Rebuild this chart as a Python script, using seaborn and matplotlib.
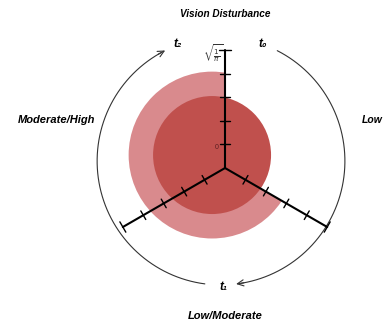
import numpy as np
import pandas as pd
import matplotlib
matplotlib.use("Agg")
import matplotlib.pyplot as plt
from matplotlib.patches import Circle, Wedge
import seaborn as sns

# --- data -------------------------------------------------------------
axis_names = ["$t_0$", "$t_1$", "$t_2$"]          # time points on the three spokes
axis_angles = [90, -30, 210]                          # spoke directions (degrees)
state_labels = ["Low", "Low/Moderate", "Moderate/High"]
title = "Vision Disturbance"

r_max = np.sqrt(1 / np.pi)                            # spoke length: radius of a unit-area circle
n_ticks = 5                                           # tick marks per spoke

circle_areas = [0.5, 0.25]                            # outer (light) and inner (dark) discs
circle_colors = ["#D98A8D", "#C0504D"]
circle_center = [-0.062, 0.062]                       # shared centre of both discs
outer_span = [90, 330]                                # angular range (deg) where the outer disc shows

# --- figure -----------------------------------------------------------
sns.set_style("white")
plt.rcParams["font.family"] = ["Liberation Sans", "DejaVu Sans"]

fig = plt.figure(figsize=(3.9, 3.24), dpi=100)
ax = fig.add_axes([0, 0, 1, 1])
u = r_max  # layout unit
ax.set_xlim(-1.907 * u, 1.398 * u)
ax.set_ylim(-1.322 * u, 1.424 * u)
ax.set_aspect("equal")
ax.axis("off")

# discs
outer = Circle(circle_center, np.sqrt(circle_areas[0] / np.pi),
               color=circle_colors[0], lw=0, zorder=1)
ax.add_patch(outer)
clip = Wedge((0, 0), 3 * u, outer_span[0], outer_span[1],
             transform=ax.transData, fc="none", ec="none")
outer.set_clip_path(clip)
ax.add_patch(Circle(circle_center, np.sqrt(circle_areas[1] / np.pi),
                    color=circle_colors[1], lw=0, zorder=1.5))

# spokes
rows = []
for name, ang in zip(axis_names, axis_angles):
    a = np.deg2rad(ang)
    for r in (0, r_max):
        rows.append({"axis": name, "x": r * np.cos(a), "y": r * np.sin(a)})
spokes = pd.DataFrame(rows)
sns.lineplot(data=spokes, x="x", y="y", units="axis", estimator=None,
             color="black", lw=1.5, sort=False, ax=ax, zorder=3, legend=False)

# tick marks across each spoke
half = 0.042 * u
for ang in axis_angles:
    a = np.deg2rad(ang)
    d = np.array([np.cos(a), np.sin(a)])
    p = np.array([-np.sin(a), np.cos(a)])
    for k in range(1, n_ticks + 1):
        c = d * r_max * k / n_ticks
        hw = half * (1.2 if k == n_ticks else 1.0)
        seg = np.array([c - p * hw, c + p * hw])
        ax.plot(seg[:, 0], seg[:, 1], color="black", lw=1.0, zorder=3)

# scale labels
ax.text(-0.10 * u, 0.975 * u, r"$\sqrt{\frac{1}{\pi}}$", fontsize=7.5,
        ha="center", va="center", color="#333333", zorder=4)
ax.text(-0.068 * u, 0.17 * u, "0", fontsize=5, ha="center", va="center",
        color="#5a1f22", zorder=4)

# outer arrows between time points
arc_c = np.array([-0.034 * u, 0.059 * u])
arc_r = 1.05 * u
for a0, a1 in [(63, -83), (262.5, 116.8)]:
    th = np.deg2rad(np.linspace(a0, a1, 200))
    xs = arc_c[0] + arc_r * np.cos(th)
    ys = arc_c[1] + arc_r * np.sin(th)
    ax.plot(xs[:-3], ys[:-3], color="#333333", lw=0.8, zorder=2)
    ax.annotate("", xy=(xs[-1], ys[-1]), xytext=(xs[-6], ys[-6]),
                arrowprops=dict(arrowstyle="->,head_length=0.45,head_width=0.22",
                                color="#333333", lw=0.8, shrinkA=0, shrinkB=0))

# text
bi = dict(fontweight="bold", fontstyle="italic", ha="center", va="center",
          color="black")
ax.text(0, 1.305 * u, title, fontsize=7.2, **bi)
ax.text(0.32 * u, 1.05 * u, "t₀", fontsize=8.5, **bi)
ax.text(-0.40 * u, 1.05 * u, "t₂", fontsize=8.5, **bi)
ax.text(-0.01 * u, -1.01 * u, "t₁", fontsize=8.5, **bi)
ax.text(1.25 * u, 0.41 * u, state_labels[0], fontsize=7.5, **bi)
ax.text(0, -1.255 * u, state_labels[1], fontsize=8.0, **bi)
ax.text(-1.425 * u, 0.405 * u, state_labels[2], fontsize=8.0, **bi)

fig.savefig("out.png", dpi=100)
